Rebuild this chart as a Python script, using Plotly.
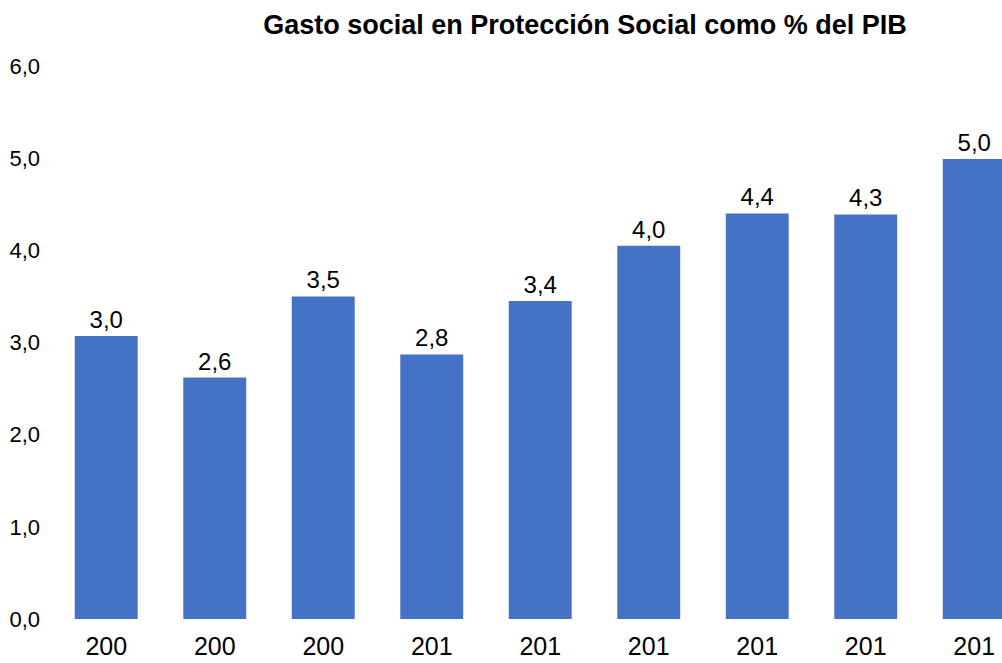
import plotly.graph_objects as go

tick_labels = ["200", "200", "200", "201", "201", "201", "201", "201", "201"]
values = [3.07, 2.62, 3.50, 2.87, 3.45, 4.05, 4.40, 4.39, 4.99]
value_labels = ["3,0", "2,6", "3,5", "2,8", "3,4", "4,0", "4,4", "4,3", "5,0"]
y_ticks = [0, 1, 2, 3, 4, 5, 6]
y_tick_labels = ["0,0", "1,0", "2,0", "3,0", "4,0", "5,0", "6,0"]

positions = list(range(len(values)))

fig = go.Figure(go.Bar(
    x=positions,
    y=values,
    text=value_labels,
    textposition="outside",
    cliponaxis=False,
    textfont=dict(family="Liberation Sans, Arial", size=24, color="black"),
    marker=dict(color="#4472C4", line=dict(width=0)),
    hoverinfo="skip",
))

fig.update_layout(
    width=1002,
    height=663,
    margin=dict(l=52, r=0, t=66, b=44),
    paper_bgcolor="white",
    plot_bgcolor="white",
    bargap=0.42,
    showlegend=False,
    title=dict(
        text="<b>Gasto social en Protección Social como % del PIB</b>",
        x=585 / 1002,
        xanchor="center",
        xref="container",
        y=1 - 25 / 663,
        yanchor="middle",
        yref="container",
        font=dict(family="Liberation Sans, Arial", size=27, color="black"),
    ),
    font=dict(family="Liberation Sans, Arial", color="black"),
)

fig.update_xaxes(
    range=[-0.5, 8.256],
    tickmode="array",
    tickvals=positions,
    ticktext=tick_labels,
    showgrid=False,
    zeroline=False,
    showline=False,
    ticks="",
    ticklabelstandoff=10,
    tickfont=dict(size=25, color="black"),
)

fig.update_yaxes(
    range=[0, 6],
    tickmode="array",
    tickvals=y_ticks,
    ticktext=y_tick_labels,
    showgrid=False,
    zeroline=False,
    showline=False,
    ticks="",
    ticklabelstandoff=11,
    tickfont=dict(size=22, color="black"),
)

fig.write_html(
    "out.html",
    config={"displayModeBar": False},
    post_script="document.body.style.margin='0';document.body.style.overflow='hidden';",
)
